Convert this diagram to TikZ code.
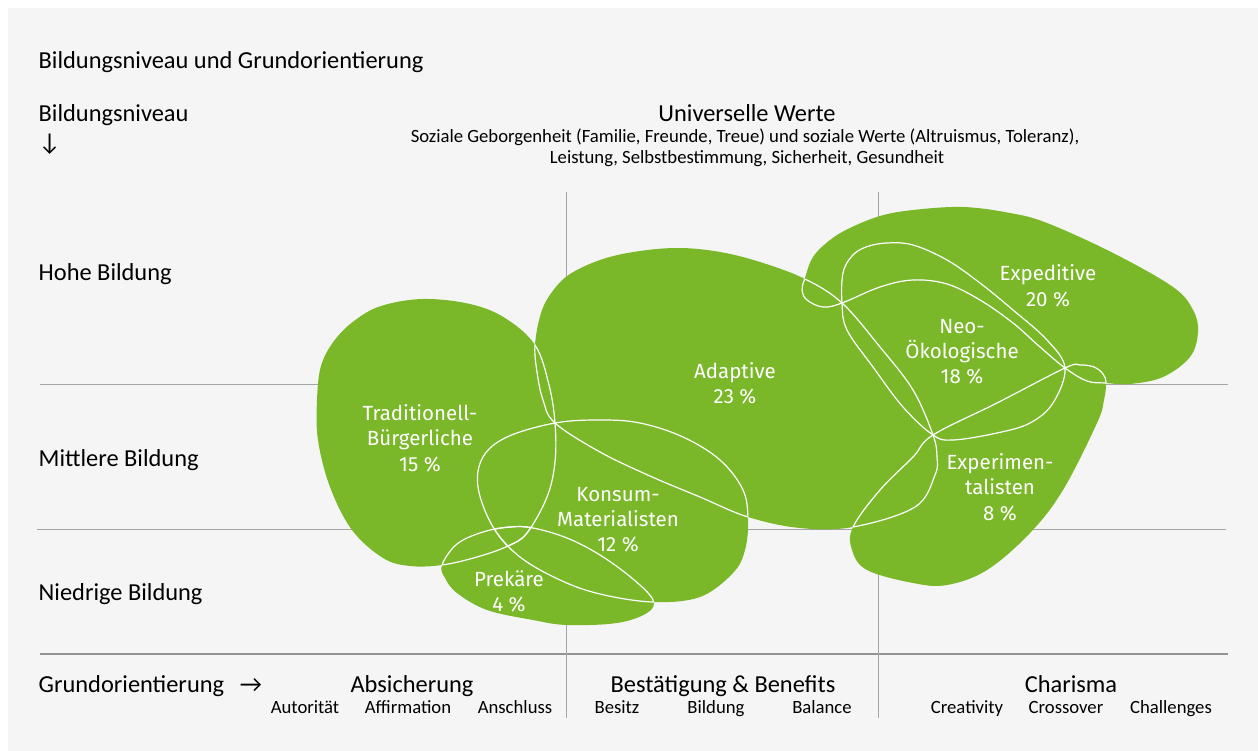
\documentclass[tikz,border=0pt]{standalone}
\usepackage{fontspec}
\setmainfont{Carlito}
\newfontfamily\blobfont{Fira Sans}
\definecolor{bg}{RGB}{245,245,245}
\definecolor{leaf}{RGB}{122,184,42}
\definecolor{gridc}{RGB}{165,165,165}
\def\BlT{plot[smooth cycle, tension=0.6] coordinates {(317,400) (321,366) (334,341) (354,321) (381,306) (423,299) (470,304) (505,318) (535,345) (549,385) (555,423) (555,462) (547,497) (527,533) (508,546) (477,557) (442,565) (410,566) (383,558) (352,530) (330,487) (318,440)}}
\def\BlAd{plot[smooth cycle, tension=0.6] coordinates {(535,345) (541,313) (552,292) (570,274) (603,259) (640,251) (680,248) (720,252) (760,262) (805,279) (842,303) (880,347) (913,390) (933,435) (937,457) (935,475) (915,507) (853,527) (800,528) (748,517) (700,497) (650,476) (600,452) (555,423) (543,400) (537,372)}}
\def\BlK{plot[smooth cycle, tension=0.6] coordinates {(555,423) (600,420) (640,423) (683,437) (720,460) (743,490) (748,520) (745,550) (733,573) (700,597) (653,602) (600,594) (560,580) (520,557) (493,527) (478,487) (483,457) (507,437)}}
\def\BlP{plot[smooth cycle, tension=0.6] coordinates {(442,565) (445,578) (457,593) (487,610) (533,620) (567,625) (617,623) (647,613) (653,600) (633,579) (600,555) (567,538) (533,528) (510,527) (483,532) (457,544)}}
\def\BlEp{plot[smooth cycle, tension=0.6] coordinates {(842,303) (823,307) (807,300) (802,290) (805,278) (813,257) (830,240) (850,228) (880,216) (913,210) (963,207) (1010,213) (1047,223) (1113,253) (1173,287) (1193,310) (1198,332) (1190,357) (1163,377) (1130,384) (1106,383) (1087,381) (1065,368) (1040,347) (1013,323) (980,300) (947,284) (913,280) (880,287)}}
\def\BlN{plot[smooth cycle, tension=0.6] coordinates {(842,303) (843,273) (852,256) (866,247) (887,243) (913,245) (947,260) (980,283) (1013,310) (1047,340) (1065,368) (1053,403) (1030,423) (997,433) (953,440) (933,435) (903,407) (873,367) (847,330)}}
\def\BlEx{plot[smooth cycle, tension=0.6] coordinates {(853,527) (880,490) (913,457) (933,435) (997,403) (1065,368) (1080,365) (1094,367) (1103,374) (1106,383) (1104,400) (1097,423) (1063,490) (1030,533) (987,570) (947,585) (913,583) (867,570) (852,550)}}
\newcommand\edgein[2]{\begin{scope}\clip #2; \draw[blobedge] #1;\end{scope}}
\begin{document}
\begin{tikzpicture}[x=1pt,y=-1pt,
  blobedge/.style={draw=white, line width=1.2pt},
  gridline/.style={draw=gridc, line width=1pt},
  lbl/.style={inner sep=0pt, font=\fontsize{24.4}{28}\selectfont},
  sml/.style={inner sep=0pt, font=\fontsize{18.7}{22}\selectfont},
  blbl/.style={inner sep=0pt, text=white, font=\blobfont\fontsize{20.5}{25}\selectfont, anchor=base}]
\useasboundingbox (0,0) rectangle (1258,751);
\fill[white] (0,0) rectangle (1258,751);
\fill[bg] (8,8) rectangle (1258,751);
% grid
\draw[gridline] (40,384) -- (1228,384);
\draw[gridline] (37,529) -- (1226,529);
\draw[draw=gridc!90!black, line width=2pt] (40,654) -- (1228,654);
\draw[gridline] (566,192) -- (566,718);
\draw[gridline] (878,192) -- (878,718);
% blobs
\fill[leaf] \BlT;
\fill[leaf] \BlAd;
\fill[leaf] \BlK;
\fill[leaf] \BlP;
\fill[leaf] \BlEp;
\fill[leaf] \BlN;
\fill[leaf] \BlEx;
% inner white edges
\edgein{\BlT}{\BlAd}
\edgein{\BlT}{\BlK}
\edgein{\BlT}{\BlP}
\edgein{\BlAd}{\BlT}
\edgein{\BlAd}{\BlK}
\edgein{\BlAd}{\BlEp}
\edgein{\BlAd}{\BlN}
\edgein{\BlAd}{\BlEx}
\edgein{\BlK}{\BlT}
\edgein{\BlK}{\BlAd}
\edgein{\BlK}{\BlP}
\edgein{\BlP}{\BlT}
\edgein{\BlP}{\BlK}
\edgein{\BlEp}{\BlAd}
\edgein{\BlEp}{\BlN}
\edgein{\BlEp}{\BlEx}
\edgein{\BlN}{\BlAd}
\edgein{\BlN}{\BlEp}
\edgein{\BlN}{\BlEx}
\edgein{\BlEx}{\BlAd}
\edgein{\BlEx}{\BlN}
\edgein{\BlEx}{\BlEp}
% blob labels
\node[blbl] (t1) at (420,420) {Traditionell-};
\node[blbl] (t2) at (420,445) {Bürgerliche};
\node[blbl] (t3) at (420,471) {15 \%};
\node[blbl] (a1) at (735,378) {Adaptive};
\node[blbl] (a2) at (735,403) {23 \%};
\node[blbl] (k1) at (618,501) {Konsum-};
\node[blbl] (k2) at (618,526) {Materialisten};
\node[blbl] (k3) at (618,551) {12 \%};
\node[blbl] (p1) at (509,586) {Prekäre};
\node[blbl] (p2) at (509,611) {4 \%};
\node[blbl] (e1) at (1048,281) {Expeditive};
\node[blbl] (e2) at (1048,306) {20 \%};
\node[blbl] (n1) at (962,333) {Neo-};
\node[blbl] (n2) at (962,358) {Ökologische};
\node[blbl] (n3) at (962,383) {18 \%};
\node[blbl] (x1) at (1000,469) {Experimen-};
\node[blbl] (x2) at (1000,494) {talisten};
\node[blbl] (x3) at (1000,520) {8 \%};
% texts
\node[lbl, anchor=base west] (title) at (38.5,69) {Bildungsniveau und Grundorientierung};
\node[lbl, anchor=base west] (bn) at (38.5,122) {Bildungsniveau};
\node[lbl, anchor=base west] (down) at (38.5,151) {↓};
\node[lbl, anchor=base] (uw) at (747,122) {Universelle Werte};
\node[sml, anchor=base] (uw1) at (745,143) {Soziale Geborgenheit (Familie, Freunde, Treue) und soziale Werte (Altruismus, Toleranz),};
\node[sml, anchor=base] (uw2) at (747,164) {Leistung, Selbstbestimmung, Sicherheit, Gesundheit};
\node[lbl, anchor=base west] (hb) at (38.5,280) {Hohe Bildung};
\node[lbl, anchor=base west] (mb) at (38.5,466) {Mittlere Bildung};
\node[lbl, anchor=base west] (nb) at (38.5,600) {Niedrige Bildung};
\node[lbl, anchor=base west] (go) at (38.5,692) {Grundorientierung};
\node[lbl, anchor=base] (right) at (251,692) {→};
\node[lbl, anchor=base] (abs) at (412,692) {Absicherung};
\node[lbl, anchor=base] (bes) at (723,692) {Bestätigung \& Benefits};
\node[lbl, anchor=base] (cha) at (1071,692) {Charisma};
\node[sml, anchor=base] (s1) at (305,713) {Autorität};
\node[sml, anchor=base] (s2) at (408,713) {Affirmation};
\node[sml, anchor=base] (s3) at (515,713) {Anschluss};
\node[sml, anchor=base] (s4) at (617,713) {Besitz};
\node[sml, anchor=base] (s5) at (716,713) {Bildung};
\node[sml, anchor=base] (s6) at (822,713) {Balance};
\node[sml, anchor=base] (s7) at (967,713) {Creativity};
\node[sml, anchor=base] (s8) at (1066,713) {Crossover};
\node[sml, anchor=base] (s9) at (1171,713) {Challenges};
\end{tikzpicture}
\end{document}
